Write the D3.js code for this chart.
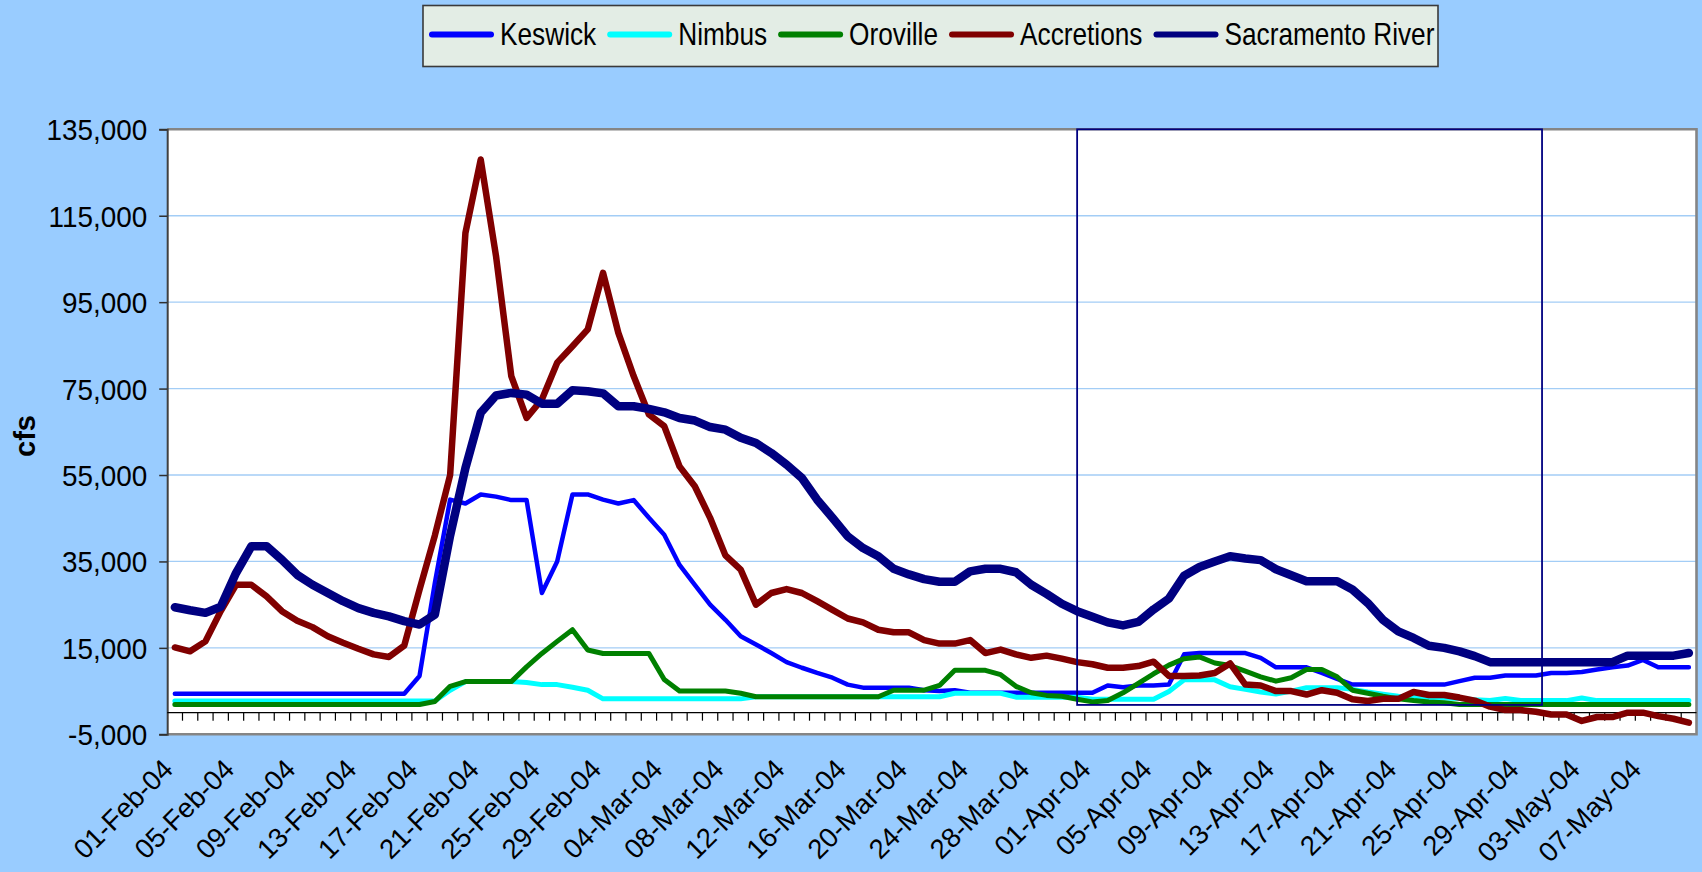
<!DOCTYPE html>
<html>
<head>
<meta charset="utf-8">
<title>Keswick, Nimbus, Oroville, Accretions and Sacramento River flows</title>
<script src="https://d3js.org/d3.v7.min.js"></script>
<style>
  body { margin: 0; background: #99ccff; }
  svg { display: block; font-family: "Liberation Sans", Arial, sans-serif; }
</style>
</head>
<body>
<svg width="1702" height="872"></svg>
<script>
// daily categories, 01-Feb-04 .. 10-May-04
var dates = d3.timeDay.range(new Date(2004, 1, 1), new Date(2004, 4, 11));

var seriesNames = ["Keswick", "Nimbus", "Oroville", "Accretions", "Sacramento River"];

var keswick = [
  4400,4400,4400,4400,4400,4400,4400,4400,4400,4400,
  4400,4400,4400,4400,4400,4400,8500,30000,49300,48400,
  50500,50000,49200,49200,27700,35000,50500,50500,49300,48400,
  49200,45100,41200,34200,29600,25000,21500,17700,15800,13800,
  11700,10400,9200,8100,6500,5800,5800,5800,5800,5200,
  5000,5200,4600,4600,4600,4600,4600,4600,4600,4600,
  4600,6300,5900,6300,6300,6500,13500,13800,13800,13800,
  13800,12700,10500,10500,10500,9200,7800,6500,6500,6500,
  6500,6500,6500,6500,7300,8100,8100,8600,8600,8600,
  9200,9200,9400,10000,10500,10900,12200,10500,10500,10500
];
var nimbus = [
  2700,2700,2700,2700,2700,2700,2700,2700,2700,2700,
  2700,2700,2700,2700,2700,2700,2700,2700,5200,7200,
  7200,7200,7200,7000,6500,6500,5900,5200,3200,3200,
  3200,3200,3200,3200,3200,3200,3200,3200,3700,3700,
  3700,3700,3700,3700,3700,3700,3700,3700,3700,3700,
  3700,4500,4500,4500,4500,3600,3600,3600,3600,3600,
  3100,3100,3100,3100,3100,4900,7600,7600,7600,6000,
  5400,4800,4300,5000,5800,5800,5800,5400,4800,4300,
  3800,3600,3500,3400,3300,3000,2800,3300,2800,2800,
  2800,2800,3400,2800,2800,2800,2800,2800,2800,2800
];
var oroville = [
  1900,1900,1900,1900,1900,1900,1900,1900,1900,1900,
  1900,1900,1900,1900,1900,1900,1900,2600,6100,7200,
  7200,7200,7200,10600,13700,16500,19200,14500,13700,13700,
  13700,13700,7700,5000,5000,5000,5000,4500,3700,3700,
  3700,3700,3700,3700,3700,3700,3700,5200,5200,5200,
  6300,9800,9800,9800,8800,6100,4600,4000,3800,3100,
  2500,2800,4600,6800,9000,11000,12500,12900,11500,10900,
  9600,8300,7300,8100,10000,10000,8300,5200,4500,3800,
  3200,2800,2500,2300,1900,1900,1900,1900,1900,1900,
  1900,1900,1900,1900,1900,1900,1900,1900,1900,1900
];
var accretions = [
  15100,14200,16500,23500,29600,29600,26900,23500,21300,19800,
  17700,16200,14800,13500,12900,15500,28500,41000,55000,111000,
  128000,105700,77900,68200,72500,81000,84800,88700,101800,87900,
  77900,69000,66300,57000,52400,45100,36400,33100,25000,27700,
  28600,27700,25800,23800,21800,20900,19200,18600,18600,16800,
  16000,16000,16800,13800,14600,13500,12700,13200,12500,11700,
  11200,10400,10400,10800,11800,8500,8500,8600,9200,11400,
  6500,6300,5000,5000,4200,5200,4600,3100,2700,3200,
  3200,4800,4100,4100,3500,2800,1400,600,600,200,
  -400,-400,-1900,-1000,-1000,0,0,-800,-1400,-2300
];
var sacramento = [
  24400,23700,23100,24500,32300,38500,38500,35400,31900,29600,
  27700,25800,24200,23100,22300,21200,20400,22700,41000,56600,
  69400,73400,74000,73600,71500,71500,74600,74400,73900,70900,
  70900,70300,69500,68200,67600,66100,65500,63600,62400,60100,
  57400,54300,49300,45100,40800,38100,36200,33300,32000,30900,
  30300,30300,32700,33300,33300,32500,29600,27500,25200,23500,
  22200,20900,20200,21000,23900,26400,31700,33700,35000,36200,
  35700,35300,33200,31800,30400,30400,30400,28500,25400,21500,
  18800,17300,15500,15000,14200,13100,11700,11700,11700,11700,
  11700,11700,11700,11700,11700,13200,13200,13200,13200,13800
];
var yTicks = [-5000, 15000, 35000, 55000, 75000, 95000, 115000, 135000];

// highlighted period (box drawn on the chart)
var boxStart = 59.5, boxEnd = 89.9, boxTop = 135000, boxBottom = 1800;

var series = [
  {name: seriesNames[0], values: keswick,    color: "#0000ff", width: 4.5},
  {name: seriesNames[1], values: nimbus,     color: "#00ffff", width: 5},
  {name: seriesNames[2], values: oroville,   color: "#008000", width: 5},
  {name: seriesNames[3], values: accretions, color: "#800000", width: 6.5},
  {name: seriesNames[4], values: sacramento, color: "#000080", width: 8.5}
];

var svg = d3.select("svg");
var pLeft = 167.2, pRight = 1696.5, pTop = 129.3, pBottom = 734.3;

var x = d3.scaleLinear().domain([0, dates.length]).range([pLeft, pRight]);
var y = d3.scaleLinear().domain([-5000, 135000]).range([pBottom, pTop]);

var fmt = d3.formatLocale({decimal: ".", thousands: ",", grouping: [3], currency: ["", ""], minus: "-"}).format(",");
var dateFmt = d3.timeFormat("%d-%b-%y");

// plot area
svg.append("rect")
  .attr("x", pLeft).attr("y", pTop)
  .attr("width", pRight - pLeft).attr("height", pBottom - pTop)
  .attr("fill", "#ffffff");

// gridlines
svg.append("g").selectAll("line")
  .data(yTicks.filter(function(t) { return t > -5000 && t < 135000; }))
  .enter().append("line")
  .attr("x1", pLeft).attr("x2", pRight)
  .attr("y1", function(d) { return y(d); }).attr("y2", function(d) { return y(d); })
  .attr("stroke", "#a3cdf6").attr("stroke-width", 1.3);

// plot border
svg.append("path")
  .attr("d", "M" + pLeft + "," + pTop + "H" + pRight + "V" + pBottom + "H" + pLeft)
  .attr("fill", "none").attr("stroke", "#858585").attr("stroke-width", 2.6);

// y axis
var yAxis = d3.axisLeft(y).tickValues(yTicks).tickSize(8).tickPadding(12)
  .tickFormat(function(d) { return fmt(d); });
var gy = svg.append("g").attr("transform", "translate(" + pLeft + ",0)").call(yAxis);
gy.select(".domain").attr("stroke", "#404040").attr("stroke-width", 2);
gy.selectAll(".tick line").attr("stroke", "#303030").attr("stroke-width", 1.5);
gy.selectAll(".tick text")
  .attr("font-size", 30).attr("fill", "#000")
  .attr("x", null).attr("dy", "0.35em")
  .attr("transform", "translate(-20,0) scale(0.93,1)");

// x axis along zero, ticks between days
var gx = svg.append("g");
gx.append("line")
  .attr("x1", pLeft).attr("x2", pRight)
  .attr("y1", y(0)).attr("y2", y(0))
  .attr("stroke", "#000").attr("stroke-width", 1.3);
gx.selectAll("line.tk")
  .data(d3.range(1, dates.length))
  .enter().append("line").attr("class", "tk")
  .attr("x1", function(k) { return x(k); }).attr("x2", function(k) { return x(k); })
  .attr("y1", y(0)).attr("y2", y(0) + 8)
  .attr("stroke", "#000").attr("stroke-width", 1.2);

// date labels every 4 days
svg.append("g").selectAll("text")
  .data(dates.filter(function(d, i) { return i % 4 === 0; }))
  .enter().append("text")
  .attr("transform", function(d, j) {
    return "translate(" + (x(j * 4 + 0.5) - 14) + ",757) rotate(-45)";
  })
  .attr("text-anchor", "end").attr("dy", "0.71em")
  .attr("font-size", 27.5).attr("fill", "#000")
  .text(function(d) { return dateFmt(d); });

// y title
svg.append("text")
  .attr("transform", "translate(35,436) rotate(-90)")
  .attr("text-anchor", "middle")
  .attr("font-size", 29).attr("font-weight", "bold")
  .text("cfs");

// series
var line = d3.line()
  .x(function(d, i) { return x(i + 0.5); })
  .y(function(d) { return y(d); });

svg.append("g").selectAll("path")
  .data(series)
  .enter().append("path")
  .attr("d", function(s) { return line(s.values); })
  .attr("fill", "none")
  .attr("stroke", function(s) { return s.color; })
  .attr("stroke-width", function(s) { return s.width; })
  .attr("stroke-linejoin", "round")
  .attr("stroke-linecap", "round");

// highlight box
svg.append("rect")
  .attr("x", x(boxStart)).attr("y", y(boxTop))
  .attr("width", x(boxEnd) - x(boxStart)).attr("height", y(boxBottom) - y(boxTop))
  .attr("fill", "none").attr("stroke", "#000080").attr("stroke-width", 1.8);

// legend
var lg = svg.append("g");
lg.append("rect")
  .attr("x", 423).attr("y", 5.5).attr("width", 1015).attr("height", 61)
  .attr("fill", "#e3ede5").attr("stroke", "#3a3a3a").attr("stroke-width", 1.6);
var lx = 430, lsq = 0.82;
series.forEach(function(s) {
  lg.append("line")
    .attr("x1", lx + 2).attr("x2", lx + 61)
    .attr("y1", 34.5).attr("y2", 34.5)
    .attr("stroke", s.color).attr("stroke-width", 6).attr("stroke-linecap", "round");
  var t = lg.append("text")
    .attr("transform", "translate(" + (lx + 70) + ",45) scale(" + lsq + ",1)")
    .attr("font-size", 32).attr("fill", "#000")
    .text(s.name);
  lx += 70 + t.node().getComputedTextLength() * lsq + 12;
});
</script>
</body>
</html>
